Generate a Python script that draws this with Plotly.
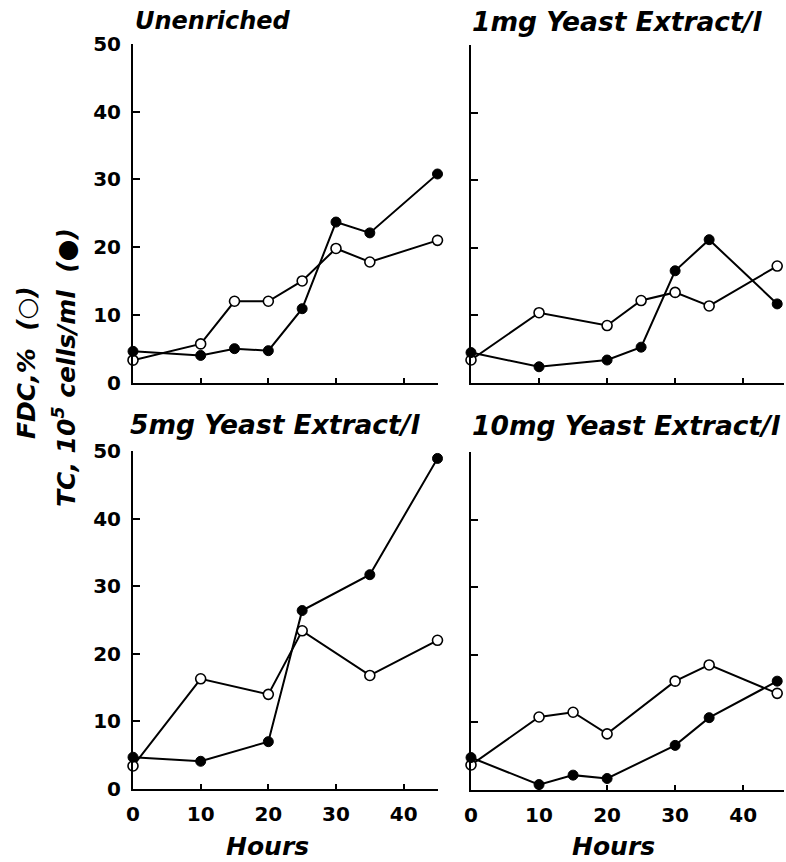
import plotly.graph_objects as go

W, H = 786, 862

panel_titles = ["Unenriched", "1mg Yeast Extract/l", "5mg Yeast Extract/l", "10mg Yeast Extract/l"]

# Unenriched
un_tc_x = [0, 10, 15, 20, 25, 30, 35, 45]
un_tc_y = [4.6, 4.0, 5.0, 4.7, 10.9, 23.7, 22.1, 30.8]
un_fdc_x = [0, 10, 15, 20, 25, 30, 35, 45]
un_fdc_y = [3.3, 5.7, 12.0, 12.0, 15.0, 19.8, 17.8, 21.0]

# 1 mg
m1_tc_x = [0, 10, 20, 25, 30, 35, 45]
m1_tc_y = [4.5, 2.4, 3.4, 5.3, 16.6, 21.2, 11.7]
m1_fdc_x = [0, 10, 20, 25, 30, 35, 45]
m1_fdc_y = [3.4, 10.4, 8.5, 12.2, 13.4, 11.4, 17.3]

# 5 mg
m5_tc_x = [0, 10, 20, 25, 35, 45]
m5_tc_y = [4.7, 4.1, 7.0, 26.4, 31.7, 48.9]
m5_fdc_x = [0, 10, 20, 25, 35, 45]
m5_fdc_y = [3.4, 16.3, 14.0, 23.4, 16.8, 22.0]

# 10 mg
m10_tc_x = [0, 10, 15, 20, 30, 35, 45]
m10_tc_y = [4.8, 0.8, 2.2, 1.7, 6.6, 10.7, 16.1]
m10_fdc_x = [0, 10, 15, 20, 30, 35, 45]
m10_fdc_y = [3.7, 10.8, 11.5, 8.3, 16.1, 18.5, 14.3]

series = [
    (un_tc_x, un_tc_y, un_fdc_x, un_fdc_y),
    (m1_tc_x, m1_tc_y, m1_fdc_x, m1_fdc_y),
    (m5_tc_x, m5_tc_y, m5_fdc_x, m5_fdc_y),
    (m10_tc_x, m10_tc_y, m10_fdc_x, m10_fdc_y),
]

y_ticks = [0, 10, 20, 30, 40, 50]
x_ticks = [0, 10, 20, 30, 40]

FONT = "DejaVu Sans"

# panel geometry in pixels (left, right, top, bottom)
px_boxes = [
    (133, 437.5, 44, 382.5),
    (471, 784, 45, 383),
    (133, 437.5, 451, 789),
    (471, 784, 452, 790),
]
x_ranges = [[0, 45], [0, 46], [0, 45], [0, 46]]

fig = go.Figure()

for i, (tx, ty, fx, fy) in enumerate(series):
    xa = "x" if i == 0 else f"x{i+1}"
    ya = "y" if i == 0 else f"y{i+1}"
    fig.add_trace(go.Scatter(
        x=fx, y=fy, xaxis=xa, yaxis=ya, mode="lines+markers",
        line=dict(color="black", width=2),
        marker=dict(symbol="circle", size=10, color="white",
                    line=dict(color="black", width=1.6)),
        cliponaxis=False, showlegend=False,
    ))
    fig.add_trace(go.Scatter(
        x=tx, y=ty, xaxis=xa, yaxis=ya, mode="lines+markers",
        line=dict(color="black", width=2),
        marker=dict(symbol="circle", size=10, color="black",
                    line=dict(color="black", width=1)),
        cliponaxis=False, showlegend=False,
    ))

layout = dict(
    width=W, height=H, margin=dict(l=0, r=0, t=0, b=0, autoexpand=False),
    paper_bgcolor="white", plot_bgcolor="white", showlegend=False,
    template="none",
)

for i, (l, r, t, b) in enumerate(px_boxes):
    xk = "xaxis" if i == 0 else f"xaxis{i+1}"
    yk = "yaxis" if i == 0 else f"yaxis{i+1}"
    ya = "y" if i == 0 else f"y{i+1}"
    xa = "x" if i == 0 else f"x{i+1}"
    bottom_row = i >= 2
    left_col = i % 2 == 0
    layout[xk] = dict(
        domain=[l / W, r / W], range=x_ranges[i], anchor=ya,
        tickvals=x_ticks, ticks="inside", ticklen=5, tickwidth=1.5, tickcolor="black",
        showticklabels=bottom_row, automargin=False, ticklabelstandoff=6,
        tickfont=dict(family=FONT, size=20, color="black", weight="bold"),
        showline=True, linecolor="black", linewidth=2, showgrid=False, zeroline=False,
        fixedrange=True,
    )
    layout[yk] = dict(
        domain=[(H - b) / H, (H - t) / H], range=[0, 50], anchor=xa,
        tickvals=y_ticks, ticks="inside", ticklen=7, tickwidth=1.5, tickcolor="black",
        showticklabels=left_col, automargin=False, ticklabelstandoff=6,
        tickfont=dict(family=FONT, size=20, color="black", weight="bold"),
        showline=True, linecolor="black", linewidth=2, showgrid=False, zeroline=False,
        fixedrange=True,
    )

fig.update_layout(**layout)

title_sizes = [24, 26.5, 26.5, 26.5]
title_pos = [(133, 21), (470, 22), (128, 424), (470, 425)]
for (px, py), txt, fs in zip(title_pos, panel_titles, title_sizes):
    fig.add_annotation(text=txt, xref="paper", yref="paper", x=px / W, y=1 - py / H,
                       xanchor="left", yanchor="middle", showarrow=False,
                       font=dict(family=FONT, size=fs, color="black", weight="bold", style="italic"))

for cx in (267, 613):
    fig.add_annotation(text="Hours", xref="paper", yref="paper", x=cx / W, y=1 - 846 / H,
                       xanchor="center", yanchor="middle", showarrow=False,
                       font=dict(family=FONT, size=25, color="black", weight="bold", style="italic"))

ylab_font = dict(family=FONT, size=25, color="black", weight="bold", style="italic")
fig.add_annotation(text="FDC,%  (○)", xref="paper", yref="paper", x=26 / W, y=1 - 363 / H,
                   xanchor="center", yanchor="middle", textangle=-90, showarrow=False, font=ylab_font)
fig.add_annotation(text="TC, 10<sup>5</sup> cells/ml  (●)", xref="paper", yref="paper",
                   x=64 / W, y=1 - 368 / H, xanchor="center", yanchor="middle",
                   textangle=-90, showarrow=False, font=ylab_font)

fig.write_html("out.html")
